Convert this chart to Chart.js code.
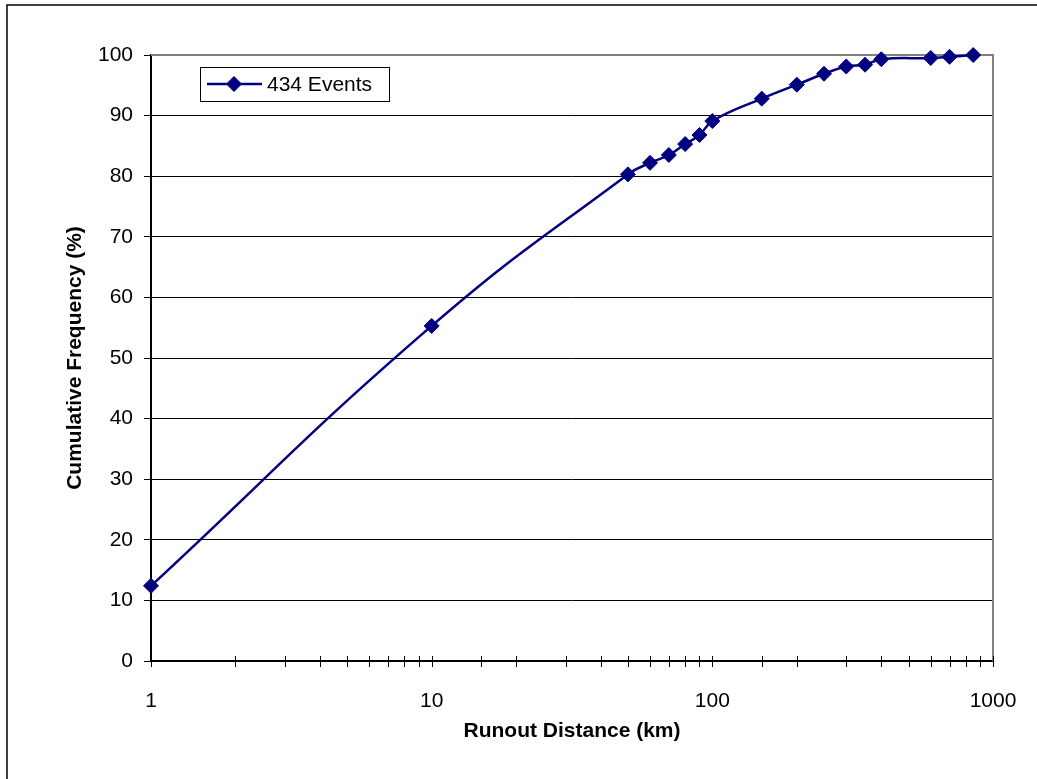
<!DOCTYPE html>
<html>
<head>
<meta charset="utf-8">
<script src="https://cdn.jsdelivr.net/npm/chart.js@4"></script>
<style>
  html, body { margin: 0; padding: 0; background: #fff; }
  #wrap { width: 1037px; height: 779px; }
</style>
</head>
<body>
<div id="wrap"><canvas id="runoutChart" width="1037" height="779"></canvas></div>
<script>
// runout distance (km) vs cumulative frequency (%)
const distanceKm = [1, 10, 50, 60, 70, 80, 90, 100, 150, 200, 250, 300, 350, 400, 600, 700, 850];
const cumFreq = [12.4, 55.3, 80.3, 82.2, 83.5, 85.3, 86.8, 89.1, 92.8, 95.1, 96.9, 98.1, 98.4, 99.3, 99.5, 99.7, 100];
const xTickLabels = [1, 10, 100, 1000];
const seriesLabel = "434 Events";

const NAVY = "#000080";
const FONT = "'Liberation Sans', Arial, sans-serif";

// frame, grey plot border, x tick marks and the inset legend
const framePlugin = {
  id: "frame",
  beforeDraw(chart) {
    const ctx = chart.ctx;
    ctx.save();
    ctx.fillStyle = "#fff";
    ctx.fillRect(0, 0, chart.width, chart.height);
    ctx.strokeStyle = "#000";
    ctx.lineWidth = 1.5;
    ctx.strokeRect(7, 5, chart.width + 20, chart.height + 20);
    ctx.restore();
  },
  beforeDatasetsDraw(chart) {
    const { ctx, chartArea: a, scales } = chart;
    ctx.save();
    ctx.strokeStyle = "#808080";
    ctx.lineWidth = 2;
    ctx.beginPath();
    ctx.moveTo(a.left, a.top);
    ctx.lineTo(a.right, a.top);
    ctx.lineTo(a.right, a.bottom);
    ctx.stroke();

    // log ticks crossing the x axis
    ctx.strokeStyle = "#000";
    ctx.lineWidth = 1;
    const xs = scales.x;
    xs.ticks.forEach(t => {
      const px = Math.round(xs.getPixelForValue(t.value)) + 0.5;
      ctx.beginPath();
      ctx.moveTo(px, a.bottom - 5);
      ctx.lineTo(px, a.bottom + 6);
      ctx.stroke();
    });
    ctx.restore();
  },
  afterDraw(chart) {
    const { ctx, chartArea: a } = chart;
    const ds = chart.data.datasets[0];
    const bx = a.left + 49, by = a.top + 12, bw = 189, bh = 34;
    const cy = by + bh / 2;
    ctx.save();
    ctx.fillStyle = "#fff";
    ctx.fillRect(bx, by, bw, bh);
    ctx.strokeStyle = "#000";
    ctx.lineWidth = 1;
    ctx.strokeRect(bx + 0.5, by + 0.5, bw, bh);
    ctx.strokeStyle = ds.borderColor;
    ctx.lineWidth = ds.borderWidth;
    ctx.beginPath();
    ctx.moveTo(bx + 7, cy);
    ctx.lineTo(bx + 62, cy);
    ctx.stroke();
    ctx.lineWidth = 1;
    Chart.helpers.drawPoint(ctx, { pointStyle: "rectRot", radius: ds.pointRadius, borderWidth: 1 }, bx + 34, cy);
    ctx.fillStyle = ds.backgroundColor;
    ctx.fill();
    ctx.fillStyle = "#000";
    ctx.font = "21px " + FONT;
    ctx.textBaseline = "middle";
    ctx.fillText(ds.label, bx + 67, cy + 1);
    ctx.restore();
  }
};

new Chart(document.getElementById("runoutChart"), {
  type: "line",
  data: {
    datasets: [{
      label: seriesLabel,
      data: distanceKm.map((d, i) => ({ x: d, y: cumFreq[i] })),
      borderColor: NAVY,
      backgroundColor: NAVY,
      borderWidth: 2.5,
      tension: 0.45,
      pointStyle: "rectRot",
      pointRadius: 7.5,
      pointBorderWidth: 1,
      pointBorderColor: NAVY,
      pointBackgroundColor: NAVY,
      clip: false
    }]
  },
  options: {
    responsive: false,
    animation: false,
    layout: { padding: { left: 0, top: 55, right: 44, bottom: 0 } },
    plugins: {
      legend: { display: false },
      tooltip: { enabled: false }
    },
    scales: {
      x: {
        type: "logarithmic",
        min: 1,
        max: 1000,
        afterFit: s => { s.height = 118; },
        grid: { display: false },
        border: { display: true, color: "#000", width: 2 },
        ticks: {
          autoSkip: false,
          maxRotation: 0,
          padding: 20,
          color: "#000",
          font: { family: FONT, size: 21 },
          callback: v => (xTickLabels.includes(v) ? String(v) : "")
        },
        title: {
          display: true,
          text: "Runout Distance (km)",
          color: "#000",
          font: { family: FONT, size: 21, weight: "bold" },
          padding: { top: 0, bottom: 35 }
        }
      },
      y: {
        min: 0,
        max: 100,
        afterFit: s => { s.width = 151; },
        grid: {
          color: ctx => (ctx.tick && ctx.tick.value === 100 ? "rgba(0,0,0,0)" : "#000"),
          tickColor: "#000",
          lineWidth: 1,
          tickLength: 7
        },
        border: { display: true, color: "#000", width: 2 },
        ticks: {
          stepSize: 10,
          padding: 11,
          color: "#000",
          font: { family: FONT, size: 21 }
        },
        title: {
          display: true,
          text: "Cumulative Frequency (%)",
          color: "#000",
          font: { family: FONT, size: 21, weight: "bold" },
          padding: { top: 63, bottom: 0 }
        }
      }
    }
  },
  plugins: [framePlugin]
});
</script>
</body>
</html>
